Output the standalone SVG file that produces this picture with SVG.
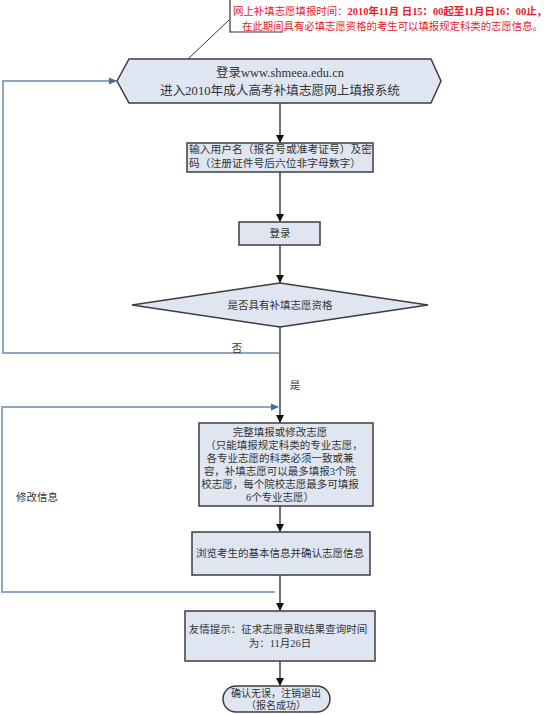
<svg xmlns="http://www.w3.org/2000/svg" width="554" height="715" viewBox="0 0 554 715">
<defs>
<marker id="ab" markerWidth="8" markerHeight="8" refX="7" refY="4" orient="auto" markerUnits="userSpaceOnUse"><path d="M0,0 L8,4 L0,8 Z" fill="#111"/></marker>
<marker id="ablue" markerWidth="8" markerHeight="8" refX="7" refY="4" orient="auto" markerUnits="userSpaceOnUse"><path d="M0,0.5 L8,4 L0,7.5 Z" fill="#4a6a9a"/></marker>
</defs>
<style>
.n{fill:#dfe6f2;stroke:#3c3c3c;stroke-width:1.5}
.t{font-family:"Liberation Serif","Noto Sans CJK SC",serif;font-size:10.5px;fill:#333;text-anchor:middle}
.s{text-anchor:start}
.big{font-size:12.5px}
.sm{font-size:10px}
.f{stroke:#222;stroke-width:1.3;fill:none}
.loop{stroke:#90a6bf;stroke-width:2;fill:none}
.r{font-family:"Liberation Serif","Noto Sans CJK SC",serif;font-size:10.5px;fill:#e8202a}
</style>
<rect width="554" height="715" fill="#fff"/>
<g id="callout">
<path d="M283,32 H230 V0" fill="none" stroke="#333" stroke-width="1.2"/>
<line x1="229" y1="20" x2="188" y2="59" stroke="#333" stroke-width="1"/>
<text class="r" x="233" y="15" textLength="314" lengthAdjust="spacingAndGlyphs">网上补填志愿填报时间：<tspan font-weight="bold">2010年11月 日15：00起至11月日16：00止，</tspan></text>
<text class="r" x="242" y="30" textLength="301" lengthAdjust="spacingAndGlyphs">在此期间具有必填志愿资格的考生可以填报规定科类的志愿信息。</text>
</g>
<g id="connectors">
<line class="f" x1="280" y1="103" x2="280" y2="142" marker-end="url(#ab)"/>
<line class="f" x1="280" y1="172" x2="280" y2="221" marker-end="url(#ab)"/>
<line class="f" x1="280" y1="245" x2="280" y2="282" marker-end="url(#ab)"/>
<line class="f" x1="280" y1="327" x2="280" y2="422" marker-end="url(#ab)"/>
<line class="f" x1="280" y1="506" x2="280" y2="531" marker-end="url(#ab)"/>
<line class="f" x1="280" y1="575" x2="280" y2="610" marker-end="url(#ab)"/>
<line class="f" x1="280" y1="661" x2="280" y2="685" marker-end="url(#ab)"/>
<path class="loop" d="M279,353 H3 V81 H116" marker-end="url(#ablue)"/>
<path class="loop" d="M275,592 H2 V407 H278" marker-end="url(#ablue)"/>
<text class="t" x="237" y="352">否</text>
<text class="t" x="295" y="389">是</text>
<text class="t" x="37" y="501">修改信息</text>
</g>
<g id="login-site">
<polygon class="n" points="117,81 129,59 431,59 441,81 431,103 129,103"/>
<text class="t big" x="280" y="77">登录www.shmeea.edu.cn</text>
<text class="t big" x="280" y="95" textLength="240" lengthAdjust="spacingAndGlyphs">进入2010年成人高考补填志愿网上填报系统</text>
</g>
<g id="input">
<rect class="n" x="187" y="143" width="186" height="29"/>
<text class="t s" x="189" y="153" textLength="183" lengthAdjust="spacingAndGlyphs">输入用户名（报名号或准考证号）及密</text>
<text class="t s" x="189" y="167" textLength="172" lengthAdjust="spacingAndGlyphs">码（注册证件号后六位非字母数字）</text>
</g>
<g id="login">
<rect class="n" x="239" y="222" width="81" height="23"/>
<text class="t" x="280" y="237">登录</text>
</g>
<g id="eligible">
<polygon class="n" points="132,305 280,283 428,305 280,327"/>
<text class="t" x="280" y="309">是否具有补填志愿资格</text>
</g>
<g id="fill">
<rect class="n" x="199" y="423" width="174" height="83"/>
<text class="t" x="280" y="436">完整填报或修改志愿</text>
<text class="t" x="284" y="449">（只能填报规定科类的专业志愿，</text>
<text class="t" x="280" y="462">各专业志愿的科类必须一致或兼</text>
<text class="t" x="280" y="475">容，补填志愿可以最多填报3个院</text>
<text class="t" x="280" y="488">校志愿，每个院校志愿最多可填报</text>
<text class="t" x="280" y="501">6个专业志愿）</text>
</g>
<g id="browse">
<rect class="n" x="192" y="532" width="178" height="43"/>
<text class="t" x="280" y="557">浏览考生的基本信息并确认志愿信息</text>
</g>
<g id="tip">
<rect class="n" x="185" y="611" width="190" height="50"/>
<text class="t" x="278" y="633">友情提示：征求志愿录取结果查询时间</text>
<text class="t" x="280" y="647">为：11月26日</text>
</g>
<g id="done">
<rect class="n" x="223" y="686" width="107" height="26" rx="13"/>
<text class="t sm" x="276" y="697">确认无误，注销退出</text>
<text class="t sm" x="276" y="709">（报名成功）</text>
</g>
</svg>
